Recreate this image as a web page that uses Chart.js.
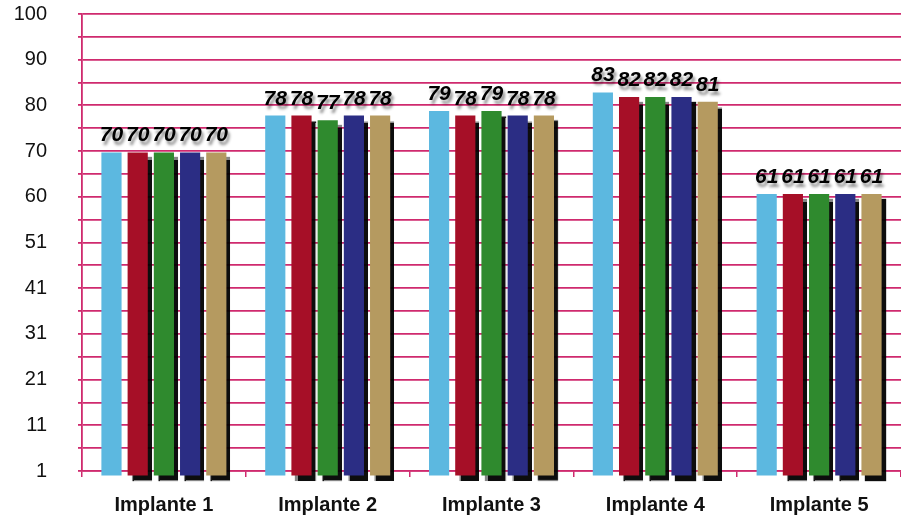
<!DOCTYPE html>
<html lang="es">
<head>
    <meta charset="UTF-8">
    <title>Implantes</title>
    <script src="https://cdn.jsdelivr.net/npm/chart.js"></script>
    <style>
        html, body { margin: 0; padding: 0; background: #fff; }
        #wrap { width: 901px; height: 521px; }
    </style>
</head>
<body>
    <div id="wrap"><canvas id="chart"></canvas></div>
    <script>
        // Data
        const categories = ['Implante 1', 'Implante 2', 'Implante 3', 'Implante 4', 'Implante 5'];
        const serie1 = [70, 78, 79, 83, 61];
        const serie2 = [70, 78, 78, 82, 61];
        const serie3 = [70, 77, 79, 82, 61];
        const serie4 = [70, 78, 78, 82, 61];
        const serie5 = [70, 78, 78, 81, 61];
        const yTickLabels = ['1', '11', '21', '31', '41', '51', '60', '70', '80', '90', '100'];

        const colors = ['#5cb8e0', '#a60f27', '#2f8a2e', '#2b2d84', '#b59a60'];
        const pink = '#cf2a6e';

        // black drop shadow behind bars (not on the first series)
        const barShadow = {
            id: 'barShadow',
            beforeDatasetDraw(chart, args) {
                const ctx = chart.ctx;
                ctx.save();
                if (args.index > 0) {
                    ctx.shadowColor = 'rgba(0,0,0,0.95)';
                    ctx.shadowOffsetX = 4;
                    ctx.shadowOffsetY = 5;
                    ctx.shadowBlur = 1;
                }
            },
            afterDatasetDraw(chart) {
                chart.ctx.restore();
            }
        };

        // values drawn above each bar
        const valueLabels = {
            id: 'valueLabels',
            afterDatasetsDraw(chart) {
                const ctx = chart.ctx;
                ctx.save();
                ctx.font = 'italic bold 21px "Liberation Sans", Arial, sans-serif';
                ctx.textAlign = 'center';
                ctx.textBaseline = 'alphabetic';
                ctx.fillStyle = '#000';
                ctx.shadowColor = 'rgba(0,0,0,0.45)';
                ctx.shadowOffsetX = 2;
                ctx.shadowOffsetY = 4;
                ctx.shadowBlur = 3;
                chart.data.datasets.forEach((ds, i) => {
                    chart.getDatasetMeta(i).data.forEach((bar, j) => {
                        ctx.fillText(String(ds.data[j]), bar.x, bar.y - 11);
                    });
                });
                ctx.restore();
            }
        };

        const allSeries = [serie1, serie2, serie3, serie4, serie5];

        new Chart(document.getElementById('chart').getContext('2d'), {
            type: 'bar',
            data: {
                labels: categories,
                datasets: allSeries.map((s, i) => ({
                    label: 'Serie ' + (i + 1),
                    data: s,
                    backgroundColor: colors[i],
                    borderWidth: 0,
                    clip: false,
                    categoryPercentage: 0.8,
                    barPercentage: 0.77
                }))
            },
            options: {
                responsive: true,
                maintainAspectRatio: false,
                animation: false,
                layout: { padding: { left: 13, top: 14, right: 0, bottom: 3 } },
                plugins: {
                    legend: { display: false },
                    tooltip: { enabled: false }
                },
                scales: {
                    x: {
                        afterFit(scale) {
                            scale.height = 47;
                        },
                        grid: { display: true, drawOnChartArea: false, color: pink, lineWidth: 1.5, tickLength: 6 },
                        border: { display: true, color: pink, width: 1.5 },
                        ticks: {
                            color: '#111',
                            padding: 16,
                            font: { family: '"Liberation Sans", Arial, sans-serif', size: 20, weight: 'bold' }
                        }
                    },
                    y: {
                        min: 1,
                        max: 100,
                        afterBuildTicks(scale) {
                            // major and half-step grid lines
                            const ticks = [];
                            for (let k = 0; k <= 20; k++) ticks.push({ value: 1 + k * 4.95 });
                            scale.ticks = ticks;
                        },
                        afterFit(scale) {
                            // fixed axis width, and keep the label gap from pushing the plot down
                            scale.width = 69;
                            scale.paddingTop = 10;
                            scale.paddingBottom = 10;
                        },
                        grid: { color: pink, lineWidth: 1.8, tickLength: 4 },
                        border: { display: true, color: pink, width: 1.8 },
                        ticks: {
                            padding: 31,
                            color: '#111',
                            autoSkip: false,
                            font: { family: '"Liberation Sans", Arial, sans-serif', size: 20 },
                            callback: (v, i) => (i % 2 === 0 ? yTickLabels[i / 2] : '')
                        }
                    }
                }
            },
            plugins: [barShadow, valueLabels]
        });
    </script>
</body>
</html>
